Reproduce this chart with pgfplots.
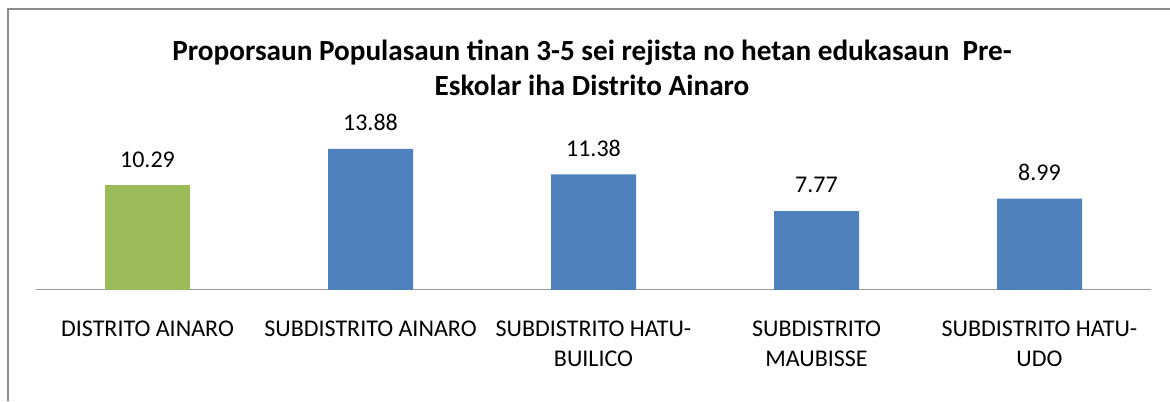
\documentclass[border=0pt]{standalone}
\usepackage{pgfplots}
\pgfplotsset{compat=1.18}
\usepackage{fontspec}
\setmainfont{Carlito}
\definecolor{barblue}{HTML}{4F81BD}
\definecolor{bargreen}{HTML}{9BBB59}
\definecolor{framegray}{HTML}{8C8C8C}
\begin{document}
\begin{tikzpicture}
\useasboundingbox (0,0) rectangle (585pt,200.5pt);
% chart frame (left and top edges visible)
\draw[framegray, line width=1.3pt] (4pt,0) -- (4pt,196pt) -- (585pt,196pt);
\node[align=center, font=\fontsize{14.6}{17.5}\selectfont\bfseries] at (296pt,166.5pt)
  {Proporsaun Populasaun tinan 3-5 sei rejista no hetan edukasaun~~Pre-\\Eskolar iha Distrito Ainaro};
\begin{axis}[
    at={(18pt,55.5pt)}, anchor=south west,
    scale only axis,
    width=557.5pt, height=81.3pt,
    ymin=0, ymax=16,
    xmin=-0.5, xmax=4.5,
    hide y axis,
    axis x line=bottom,
    x axis line style={-, draw=gray!80, line width=0.5pt},
    xtick={0,1,2,3,4},
    major tick length=0pt,
    xticklabels={{DISTRITO AINARO},{SUBDISTRITO AINARO},{SUBDISTRITO HATU-\\BUILICO},{SUBDISTRITO\\MAUBISSE},{SUBDISTRITO HATU-\\UDO}},
    xticklabel style={align=center, font=\fontsize{12}{15}\selectfont, anchor=north, yshift=-12pt},
    ybar, bar width=42.5pt,
    nodes near coords,
    every node near coord/.append style={font=\fontsize{12}{14}\selectfont, yshift=5.5pt},
    point meta=explicit symbolic,
    clip=false,
]
\addplot[fill=bargreen, draw=none, bar shift=0pt] coordinates {(0,10.29) [10.29]};
\addplot[fill=barblue, draw=none, bar shift=0pt] coordinates {
    (1,13.88) [13.88]
    (2,11.38) [11.38]
    (3,7.77) [7.77]
    (4,8.99) [8.99]
};
\end{axis}
\end{tikzpicture}
\end{document}
